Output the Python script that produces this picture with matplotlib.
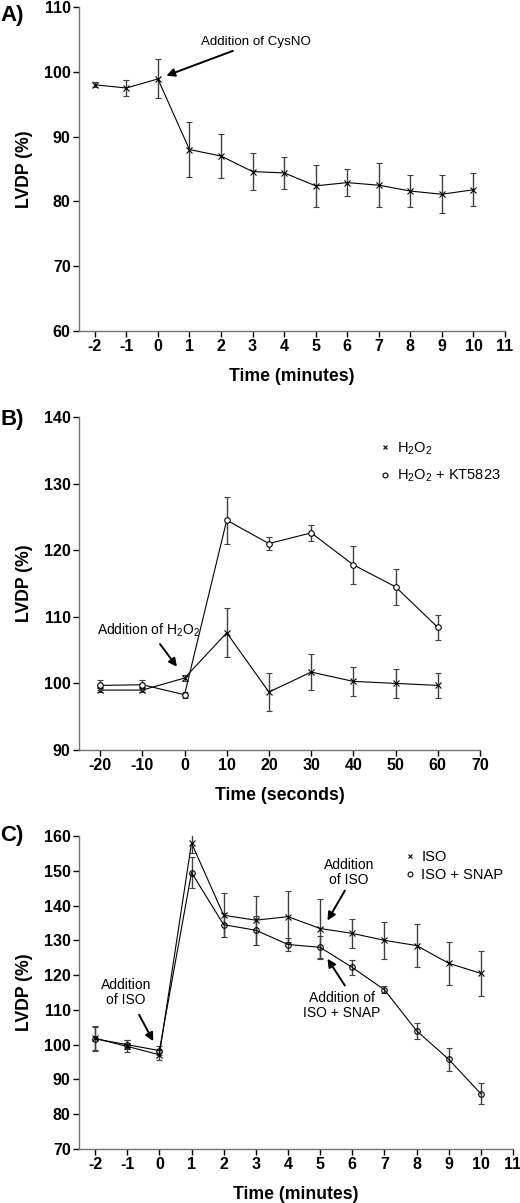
import matplotlib
matplotlib.use("Agg")
import matplotlib.pyplot as plt
from matplotlib.lines import Line2D

plt.rcParams['font.family'] = ['Liberation Sans', 'DejaVu Sans']
plt.rcParams['mathtext.fontset'] = 'custom'
plt.rcParams['mathtext.rm'] = 'Liberation Sans'
plt.rcParams['mathtext.default'] = 'regular'
plt.rcParams['axes.unicode_minus'] = False

# Panel A: CysNO
a_time = [-2, -1, 0, 1, 2, 3, 4, 5, 6, 7, 8, 9, 10]
a_lvdp = [98.0, 97.5, 98.9, 88.0, 87.0, 84.6, 84.4, 82.4, 82.9, 82.5, 81.6, 81.1, 81.8]
a_err = [0.4, 1.2, 3.0, 4.3, 3.4, 2.9, 2.5, 3.2, 2.1, 3.4, 2.45, 2.9, 2.55]

# Panel B: H2O2 and H2O2 + KT5823
b_time = [-20, -10, 0, 10, 20, 30, 40, 50, 60]
b_h2o2 = [99.0, 99.0, 100.8, 107.6, 98.7, 101.7, 100.3, 100.0, 99.7]
b_h2o2_err = [0.3, 0.3, 0.4, 3.7, 2.8, 2.7, 2.15, 2.15, 1.85]
b_kt = [99.7, 99.8, 98.3, 124.5, 121.0, 122.6, 117.8, 114.5, 108.4]
b_kt_err = [0.75, 0.75, 0.45, 3.5, 0.95, 1.15, 2.9, 2.7, 1.85]

# Panel C: ISO and ISO + SNAP
c_time = [-2, -1, 0, 1, 2, 3, 4, 5, 6, 7, 8, 9, 10]
c_iso = [101.8, 99.5, 97.1, 158.0, 137.2, 135.8, 136.8, 133.4, 132.0, 130.0, 128.5, 123.4, 120.5]
c_iso_err = [3.6, 1.7, 1.4, 2.9, 6.3, 7.0, 7.4, 8.6, 4.1, 5.4, 6.2, 6.2, 6.4]
c_snap = [101.7, 100.0, 98.3, 149.5, 134.5, 132.9, 128.8, 128.0, 122.2, 115.8, 104.0, 95.8, 85.9]
c_snap_err = [3.3, 1.3, 1.2, 4.5, 3.5, 4.1, 1.9, 3.3, 2.2, 1.0, 2.3, 3.3, 3.05]

W, H = 520, 1203
fig = plt.figure(figsize=(W / 100, H / 100), dpi=100)


# Axes placed in pixel coordinates (left, top, right, bottom).
def px_axes(l, t, r, b):
    return fig.add_axes([l / W, 1 - b / H, (r - l) / W, (b - t) / H])


def style(ax, xlabel):
    for s in ['top', 'right']:
        ax.spines[s].set_visible(False)
    for s in ['left', 'bottom']:
        ax.spines[s].set_color('0.45')
        ax.spines[s].set_linewidth(1.0)
    ax.tick_params(direction='out', length=4, width=1, color='k', labelsize=11.5, pad=2)
    for lab in ax.get_xticklabels() + ax.get_yticklabels():
        lab.set_fontweight('bold')
    ax.set_ylabel('LVDP (%)', fontsize=12.7, fontweight='bold')
    ax.set_xlabel(xlabel, fontsize=12.7, fontweight='bold', labelpad=10)
    ax.yaxis.set_label_coords(33 / W, 0.5, transform=matplotlib.transforms.blended_transform_factory(fig.transFigure, ax.transAxes))


ebar = dict(color='k', lw=0.8, ms=4, mew=0.8, ecolor='0.25', elinewidth=1.0, capsize=2.5, capthick=1.0)
arrow = dict(arrowstyle='-|>', color='k', lw=1.4, mutation_scale=12, shrinkA=0, shrinkB=0)

# ---- Panel A
ax = px_axes(79, 7, 505, 331)
ax.errorbar(a_time, a_lvdp, yerr=a_err, fmt='-x', **ebar)
ax.set_xlim(-2.5, 11)
ax.set_ylim(60, 110)
ax.set_xticks(range(-2, 12))
ax.set_yticks(range(60, 111, 10))
style(ax, 'Time (minutes)')
ax.annotate('Addition of CysNO', xy=(0.27, 99.4), xytext=(1.38, 103.66), fontsize=9.6,
            ha='left', va='bottom', arrowprops=arrow)
fig.text(0, 1 - 15 / H, 'A)', fontsize=16, fontweight='bold', va='center', ha='left')

# ---- Panel B
ax = px_axes(79, 417, 480, 750)
ax.errorbar(b_time, b_h2o2, yerr=b_h2o2_err, fmt='-x', **ebar)
ax.errorbar(b_time, b_kt, yerr=b_kt_err, fmt='-o', mfc='white', zorder=3, **ebar)
ax.set_xlim(-25, 70)
ax.set_ylim(90, 140)
ax.set_xticks(range(-20, 71, 10))
ax.set_yticks(range(90, 141, 10))
style(ax, 'Time (seconds)')
ax.text(-8.6, 108.0, 'Addition of H$_2$O$_2$', fontsize=10, ha='center', va='center')
ax.annotate('', xy=(-1.8, 102.5), xytext=(-5.8, 105.9), arrowprops=arrow)
handles = [Line2D([], [], marker='x', ls='none', color='k', ms=3.5, mew=0.8),
           Line2D([], [], marker='o', ls='none', color='k', mfc='white', ms=3.5, mew=0.8)]
ax.legend(handles, ['H$_2$O$_2$', 'H$_2$O$_2$ + KT5823'], loc='upper left',
          bbox_to_anchor=(0.745, 0.93), frameon=False, fontsize=10.5, handlelength=1.0,
          handletextpad=0.3, labelspacing=0.75, borderpad=0, borderaxespad=0)
fig.text(0, 1 - 420 / H, 'B)', fontsize=16, fontweight='bold', va='center', ha='left')

# ---- Panel C
ax = px_axes(79, 836, 513, 1149)
ax.errorbar(c_time, c_iso, yerr=c_iso_err, fmt='-x', **ebar)
ax.errorbar(c_time, c_snap, yerr=c_snap_err, fmt='-o', mfc='none', **ebar)
ax.set_xlim(-2.5, 11)
ax.set_ylim(70, 160)
ax.set_xticks(range(-2, 12))
ax.set_yticks(range(70, 161, 10))
style(ax, 'Time (minutes)')
ax.text(-1.04, 114.9, 'Addition\nof ISO', fontsize=10, ha='center', va='center', linespacing=1.1)
ax.annotate('', xy=(-0.19, 101.0), xytext=(-0.63, 108.6), arrowprops=arrow)
ax.text(5.9, 149.4, 'Addition\nof ISO', fontsize=10, ha='center', va='center', linespacing=1.1)
ax.annotate('', xy=(5.23, 135.7), xytext=(5.77, 144.3), arrowprops=arrow)
ax.text(5.67, 111.3, 'Addition of\nISO + SNAP', fontsize=10, ha='center', va='center', linespacing=1.1)
ax.annotate('', xy=(5.23, 124.7), xytext=(5.77, 117.0), arrowprops=arrow)
handles = [Line2D([], [], marker='x', ls='none', color='k', ms=3.5, mew=0.8),
           Line2D([], [], marker='o', ls='none', color='k', mfc='white', ms=3.5, mew=0.8)]
ax.legend(handles, ['ISO', 'ISO + SNAP'], loc='upper left',
          bbox_to_anchor=(0.745, 0.955), frameon=False, fontsize=10.5, handlelength=1.0,
          handletextpad=0.3, labelspacing=0.3, borderpad=0, borderaxespad=0)
fig.text(0, 1 - 835 / H, 'C)', fontsize=16, fontweight='bold', va='center', ha='left')

fig.savefig('out.png', dpi=100)
